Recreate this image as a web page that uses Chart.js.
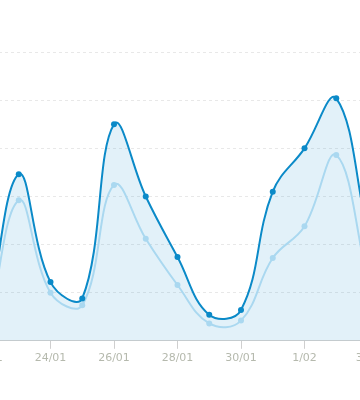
<!DOCTYPE html>
<html>
<head>
<meta charset="utf-8">
<script src="https://cdn.jsdelivr.net/npm/chart.js@4"></script>
<style>
  html, body { margin: 0; padding: 0; background: #fff; overflow: hidden; }
  #wrap { position: absolute; left: -33px; top: 0; width: 421px; height: 400px; }
</style>
</head>
<body>
<div id="wrap"><canvas id="lineChart"></canvas></div>
<script>
var days = ["22/01", "23/01", "24/01", "25/01", "26/01", "27/01", "28/01", "29/01", "30/01", "31/01", "1/02", "2/02", "3/02"];
var mainValues = [15, 173, 61, 44, 225, 150, 87, 27, 32, 155, 200, 252, 110];
var otherValues = [5, 146, 50, 37, 162, 106, 58, 18, 21, 86, 119, 193, 62];
var yTicks = [0, 50, 100, 150, 200, 250, 300, 350];

var LINECHART = document.getElementById('lineChart');

let lineChart = new Chart(LINECHART, {
    type: 'line',
    data: {
        labels: days,
        datasets: [{
            label: "main",
            data: mainValues,
            borderColor: '#0b8ac8',
            backgroundColor: 'rgba(30, 150, 210, 0.13)',
            pointBackgroundColor: '#0b8ac8',
            pointBorderWidth: 0,
            pointRadius: 3,
            borderWidth: 2,
            tension: 0.4,
            fill: 'origin'
        }, {
            label: "other",
            data: otherValues,
            borderColor: '#bfe3f5',
            backgroundColor: '#bfe3f5',
            pointBackgroundColor: '#bfe3f5',
            pointBorderWidth: 0,
            pointRadius: 3,
            borderWidth: 2,
            tension: 0.4,
            fill: false
        }]
    },
    options: {
        responsive: true,
        maintainAspectRatio: false,
        animation: false,
        layout: { padding: { left: 20, right: 20, top: 0, bottom: 32 } },
        plugins: { legend: { display: false }, tooltip: { enabled: false } },
        scales: {
            x: {
                grid: {
                    drawOnChartArea: false,
                    drawTicks: true,
                    tickLength: 8,
                    tickColor: function (ctx) { return ctx.index % 2 ? 'rgba(0,0,0,0)' : '#cfcfcf'; }
                },
                border: { display: true, color: '#cfcfcf', width: 1 },
                ticks: {
                    autoSkip: false,
                    maxRotation: 0,
                    padding: 3,
                    color: '#b5b9ad',
                    font: { family: 'DejaVu Sans', size: 11 },
                    callback: function (v, i) { return i % 2 ? '' : days[i]; }
                }
            },
            y: {
                min: 0,
                max: 350,
                afterBuildTicks: function (axis) { axis.ticks = yTicks.map(function (v) { return { value: v }; }); },
                ticks: { display: false },
                border: { display: false, dash: [3, 3] },
                grid: {
                    drawTicks: false,
                    color: function (ctx) {
                        var v = ctx.tick ? ctx.tick.value : 0;
                        return (v === 0 || v === 350) ? 'rgba(0,0,0,0)' : '#e8e8e8';
                    }
                }
            }
        }
    }
});
</script>
</body>
</html>
